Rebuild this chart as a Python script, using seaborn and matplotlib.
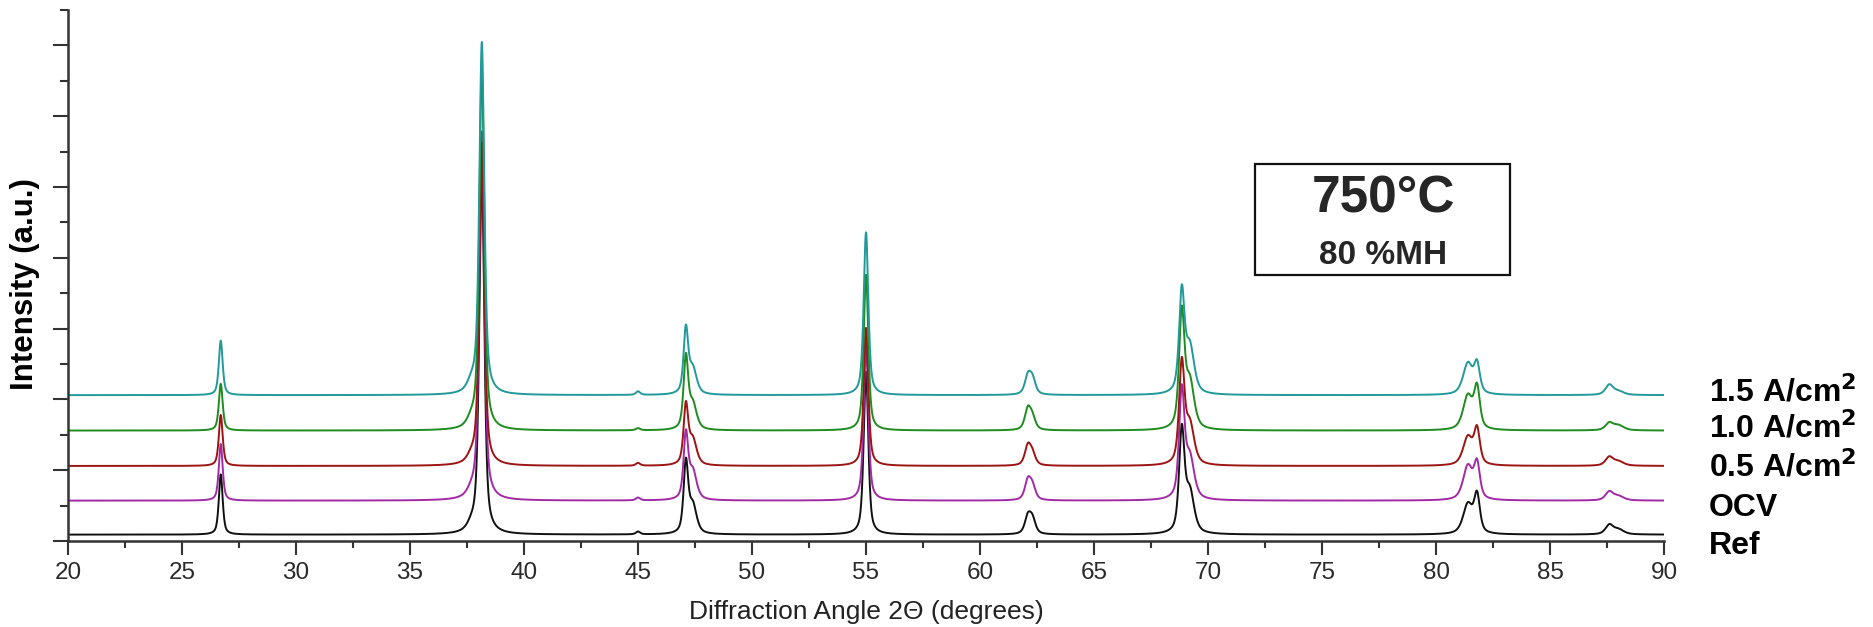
import numpy as np
import pandas as pd
import matplotlib
matplotlib.use("Agg")
import matplotlib.pyplot as plt
import seaborn as sns
from matplotlib.patches import Rectangle
from matplotlib.ticker import MultipleLocator

# ---------------- data ----------------
series_names = ["Ref", "OCV", "0.5 A/cm$^\\mathbf{2}$", "1.0 A/cm$^\\mathbf{2}$", "1.5 A/cm$^\\mathbf{2}$"]
series_keys = ["Ref", "OCV", "0.5", "1.0", "1.5"]
series_colors = ["#111111", "#a22aa6", "#9c1414", "#1e8c1e", "#22999a"]
baselines = [0.09, 0.57, 1.06, 1.56, 2.06]          # vertical offsets of each trace

peak_pos   = [26.7, 37.7, 38.15, 45.0, 47.1, 47.4, 55.0, 62.1, 62.3, 68.85, 69.2, 81.4, 81.8, 87.6, 88.0]
peak_fwhm  = [0.20, 0.45, 0.26, 0.22, 0.24, 0.40, 0.24, 0.32, 0.32, 0.28, 0.45, 0.50, 0.30, 0.40, 0.55]
amp_ref    = [0.85, 0.08, 5.10, 0.04, 0.98, 0.40, 2.30, 0.24, 0.20, 1.42, 0.58, 0.42, 0.52, 0.13, 0.07]
amp_ocv    = [0.80, 0.08, 5.20, 0.04, 0.90, 0.40, 2.20, 0.27, 0.18, 1.50, 0.58, 0.48, 0.48, 0.12, 0.06]
amp_05     = [0.72, 0.08, 4.55, 0.04, 0.82, 0.36, 1.95, 0.27, 0.15, 1.40, 0.56, 0.40, 0.48, 0.12, 0.06]
amp_10     = [0.66, 0.10, 5.10, 0.03, 1.00, 0.36, 2.20, 0.29, 0.16, 1.60, 0.66, 0.48, 0.56, 0.10, 0.07]
amp_15     = [0.77, 0.12, 4.97, 0.05, 0.90, 0.36, 2.30, 0.25, 0.21, 1.40, 0.66, 0.44, 0.40, 0.14, 0.05]
amplitudes = [amp_ref, amp_ocv, amp_05, amp_10, amp_15]

x_ticks_major = [20, 25, 30, 35, 40, 45, 50, 55, 60, 65, 70, 75, 80, 85, 90]

# ---------------- build traces (pseudo-Voigt peak profiles) ----------------
two_theta = np.linspace(20, 90, 4201)

def profile(x, pos, fwhm, amp, eta=0.6):
    y = np.zeros_like(x)
    for p, w, a in zip(pos, fwhm, amp):
        g = np.exp(-4 * np.log(2) * ((x - p) / w) ** 2)
        l = 1.0 / (1.0 + 4 * ((x - p) / w) ** 2)
        y += a * (eta * l + (1 - eta) * g)
    return y

frames = []
for key, base, amp in zip(series_keys, baselines, amplitudes):
    frames.append(pd.DataFrame({"two_theta": two_theta,
                                "intensity": base + profile(two_theta, peak_pos, peak_fwhm, amp),
                                "series": key}))
df = pd.concat(frames, ignore_index=True)

# ---------------- figure ----------------
sns.set_theme(style="ticks")
plt.rcParams["font.family"] = ["Liberation Sans", "DejaVu Sans"]

W, H, DPI = 1874, 627, 100
fig = plt.figure(figsize=(W / DPI, H / DPI), dpi=DPI)
ax = fig.add_axes([68 / W, 1 - 541 / H, (1664 - 68) / W, (541 - 10) / H])

sns.lineplot(data=df, x="two_theta", y="intensity", hue="series",
             hue_order=series_keys, palette=dict(zip(series_keys, series_colors)),
             estimator=None, errorbar=None, sort=False, legend=False,
             linewidth=1.4, ax=ax)

ax.set_xlim(20, 90)
ax.set_ylim(0, 7.5)
ax.set_xticks(x_ticks_major)
ax.xaxis.set_minor_locator(MultipleLocator(2.5))
ax.yaxis.set_major_locator(MultipleLocator(1))
ax.yaxis.set_minor_locator(MultipleLocator(0.5))
ax.set_yticklabels([])
ax.tick_params(axis="x", which="major", length=10, width=1.5, color="#333333",
               labelsize=17.5, labelcolor="#2a2a2a", pad=5, direction="out")
ax.tick_params(axis="x", which="minor", length=5, width=1.5, color="#333333", direction="out")
ax.tick_params(axis="y", which="major", length=11, width=1.5, color="#333333", direction="out")
ax.tick_params(axis="y", which="minor", length=6, width=1.5, color="#333333", direction="out")
for s in ["left", "bottom"]:
    ax.spines[s].set_linewidth(1.8)
    ax.spines[s].set_color("#333333")
sns.despine(ax=ax)

ax.set_xlabel("Diffraction Angle 2\u0398 (degrees)", fontsize=19, color="#222222")
ax.xaxis.set_label_coords(0.5, -(612 - 541) / (541 - 10), transform=ax.transAxes)
ax.set_ylabel("Intensity (a.u.)", fontsize=22.5, fontweight="bold", color="black")
ax.yaxis.set_label_coords((25 - 68) / (1664 - 68), (541 - 284) / (541 - 10), transform=ax.transAxes)
ax.yaxis.label.set_va("center")
ax.xaxis.label.set_va("center")

# annotation box
fig.patches.append(Rectangle((1255 / W, 1 - 275 / H), 255 / W, 111 / H,
                             transform=fig.transFigure, fill=False,
                             edgecolor="#111111", linewidth=1.6))
fig.text(1383 / W, 1 - 199 / H, "750°C", fontsize=37, fontweight="bold",
         ha="center", va="center")
fig.text(1383 / W, 1 - 255 / H, "80 %MH", fontsize=24, fontweight="bold",
         ha="center", va="center")

# right-hand trace labels
label_y_px = [546, 508, 467, 428, 392]
for name, ypx in zip(series_names, label_y_px):
    fig.text(1709 / W, 1 - ypx / H, name, fontsize=23, fontweight="bold",
             ha="left", va="center", color="black")

fig.savefig("out.png", dpi=DPI, facecolor="white")
